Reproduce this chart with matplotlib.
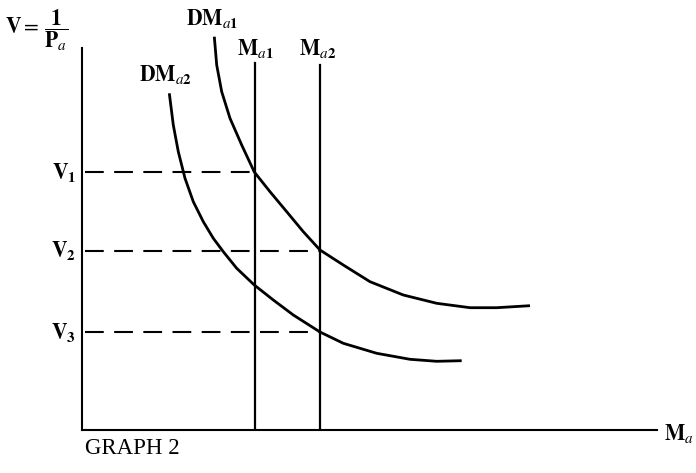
import matplotlib
matplotlib.use("Agg")
import matplotlib.pyplot as plt

plt.rcParams['mathtext.fontset'] = 'stix'
plt.rcParams['font.family'] = ['Liberation Serif', 'DejaVu Serif']

# Data (units measured from the origin of the diagram)
dm_a1_x = [132.3, 134.7, 139.7, 148, 159.7, 172.3, 188, 204.7, 221.3, 238, 261.3, 288,
           321.3, 354.7, 388, 414.7, 448]
dm_a1_y = [393.3, 365, 338.3, 311.7, 285, 258, 238.3, 218.3, 198.3, 180, 165, 148.3,
           135, 126.7, 122.3, 122.3, 124.3]
dm_a2_x = [87.3, 91.3, 96.3, 103, 111.3, 121.3, 131.3, 141.3, 154.7, 172.3, 191.3, 211.3,
           238, 261.3, 294.7, 328, 354.7, 379.7]
dm_a2_y = [336.7, 305, 278.3, 251.7, 228.3, 208.3, 191.7, 178.3, 161.7, 145, 130, 115,
           98, 86.7, 76.7, 70.7, 68.7, 69.3]
m_a1 = 173
m_a2 = 238
m_top = [367, 365]
v_levels = [258, 179, 98]
v_ends = [m_a1, m_a2, m_a2]
v_labels = [r'$\mathbf{V}_{\mathbf{1}}$', r'$\mathbf{V}_{\mathbf{2}}$', r'$\mathbf{V}_{\mathbf{3}}$']
x_max = 575
y_axis_top = 382

W, H = 696, 473
fig = plt.figure(figsize=(W / 100, H / 100), dpi=100)
ax = fig.add_axes([82 / W, (H - 430) / H, 575 / W, 400 / H])
ax.set_xlim(0, x_max)
ax.set_ylim(0, 400)
for s in ['top', 'right']:
    ax.spines[s].set_visible(False)
ax.spines['left'].set_bounds(0, y_axis_top)
ax.spines['left'].set_linewidth(1.5)
ax.spines['bottom'].set_linewidth(1.5)
ax.set_xticks([])
ax.set_yticks([])
ax.patch.set_alpha(0)

ax.plot(dm_a1_x, dm_a1_y, color='black', lw=2.0, solid_capstyle='butt',
        solid_joinstyle='round', clip_on=False)
ax.plot(dm_a2_x, dm_a2_y, color='black', lw=2.0, solid_capstyle='butt',
        solid_joinstyle='round', clip_on=False)
ax.plot([m_a1, m_a1], [0, m_top[0]], color='black', lw=1.6)
ax.plot([m_a2, m_a2], [0, m_top[1]], color='black', lw=1.6)
for v, e in zip(v_levels, v_ends):
    ax.plot([3, e], [v, v], color='black', lw=1.5, dashes=(9, 5))


def fx(x):
    return x / W


def fy(y):
    return 1 - y / H


fs = 15.5
fig.text(fx(5), fy(30), r'$\mathbf{V}{=}\,\dfrac{\mathbf{1}}{\mathbf{P}_{a}}$', fontsize=fs,
         ha='left', va='center')
fig.text(fx(212), fy(18), r'$\mathbf{DM}_{a\mathbf{1}}$', fontsize=fs, ha='center', va='center')
fig.text(fx(255), fy(49), r'$\mathbf{M}_{a\mathbf{1}}$', fontsize=fs, ha='center', va='center')
fig.text(fx(318), fy(49), r'$\mathbf{M}_{a\mathbf{2}}$', fontsize=fs, ha='center', va='center')
fig.text(fx(165), fy(75), r'$\mathbf{DM}_{a\mathbf{2}}$', fontsize=fs, ha='center', va='center')
for lab, py in zip(v_labels, [172, 251, 333]):
    fig.text(fx(76), fy(py), lab, fontsize=fs, ha='right', va='center')
fig.text(fx(664), fy(433), r'$\mathbf{M}_{a}$', fontsize=fs, ha='left', va='center')
fig.text(fx(85), fy(448), 'GRAPH 2', fontsize=16.5, ha='left', va='center')

fig.savefig('out.png', dpi=100)
